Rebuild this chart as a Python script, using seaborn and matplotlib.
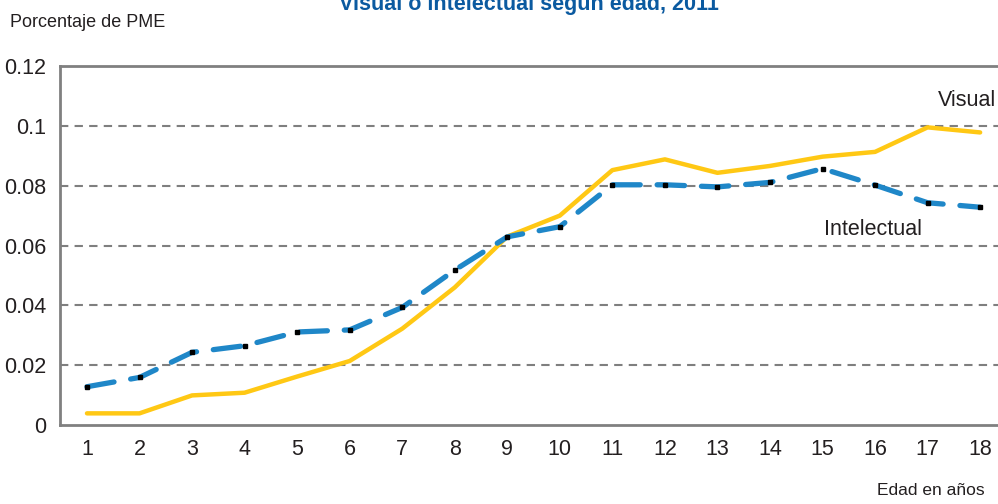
import pandas as pd
import seaborn as sns
import matplotlib.pyplot as plt

# Datos
edad = list(range(1, 19))
visual = [0.0039, 0.0039, 0.0099, 0.0108, 0.0162, 0.0214, 0.0322, 0.046, 0.063,
          0.070, 0.0852, 0.0888, 0.0843, 0.0866, 0.0897, 0.0913, 0.0995, 0.0978]
intelectual = [0.0128, 0.0159, 0.0243, 0.0265, 0.0311, 0.0318, 0.0393, 0.0518, 0.0629,
               0.0663, 0.0803, 0.0803, 0.0796, 0.0811, 0.0857, 0.0802, 0.0743, 0.0728]
yticks = [0, 0.02, 0.04, 0.06, 0.08, 0.1, 0.12]
ytick_labels = ['0', '0.02', '0.04', '0.06', '0.08', '0.1', '0.12']

dados = pd.DataFrame({'Edad': edad, 'Visual': visual, 'Intelectual': intelectual})

sns.set_style('white')
plt.rcParams['font.family'] = ['Liberation Sans', 'DejaVu Sans']

fig = plt.figure(figsize=(9.98, 5.04), dpi=100)
ax = fig.add_axes([0.0601, 0.1567, 0.9399, 0.7123])

# Líneas de cuadrícula
for y in yticks[1:-1]:
    ax.axhline(y, color='#7f7f7f', lw=1.5, ls=(0, (4, 3)), zorder=1)

sns.lineplot(data=dados, x='Edad', y='Visual', color='#FFC814', lw=3.2,
             solid_capstyle='round', ax=ax, zorder=3)
sns.lineplot(data=dados, x='Edad', y='Intelectual', color='#1F87C8', lw=3.8,
             dashes=False, ax=ax, zorder=4)
ln = ax.lines[-1]
ln.set_linestyle((0, (5.2, 3.2)))
ln.set_dash_capstyle('round')
ax.plot(dados['Edad'], dados['Intelectual'], ls='none', marker='s', ms=3.2,
        color='black', zorder=5)

ax.set_xlim(0.486, 18.34)
ax.set_ylim(0, 0.12)
ax.set_xticks(edad)
ax.set_yticks(yticks)
ax.set_yticklabels(ytick_labels)
ax.tick_params(axis='both', labelsize=15.5, length=0, colors='#231f20')
ax.tick_params(axis='x', pad=10)
ax.tick_params(axis='y', pad=10)
ax.set_xlabel('')
ax.set_ylabel('')

for s in ['left', 'bottom', 'top']:
    ax.spines[s].set_color('#808080')
    ax.spines[s].set_linewidth(2)
ax.spines['right'].set_visible(False)

ax.text(18.3, 0.1085, 'Visual', fontsize=15.5, ha='right', va='center', color='#231f20')
ax.text(16.9, 0.0655, 'Intelectual', fontsize=15.5, ha='right', va='center', color='#231f20')

fig.text(0.01, 0.955, 'Porcentaje de PME', fontsize=13, ha='left', va='center', color='#231f20')
fig.text(0.987, 0.027, 'Edad en años', fontsize=12.5, ha='right', va='center', color='#231f20')
fig.text(0.53, 0.992, 'Visual o intelectual según edad, 2011', fontsize=15.5, fontweight='bold',
         ha='center', va='center', color='#0B5AA0')

fig.savefig('out.png', dpi=100)
